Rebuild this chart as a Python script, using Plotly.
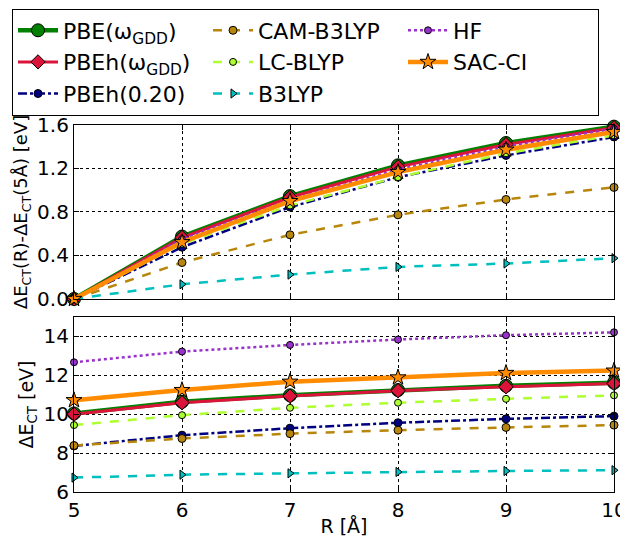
import plotly.graph_objects as go
from plotly.subplots import make_subplots

R = [5, 6, 7, 8, 9, 10]

names = ["PBE(ω<sub>GDD</sub>)", "PBEh(ω<sub>GDD</sub>)", "PBEh(0.20)",
         "CAM-B3LYP", "LC-BLYP", "B3LYP", "HF", "SAC-CI"]

# Top panel: ΔE_CT(R) - ΔE_CT(5 Å)  [eV]
top_pbe_gdd = [0.0, 0.574, 0.946, 1.229, 1.434, 1.585]
top_pbeh_gdd = [0.0, 0.565, 0.935, 1.215, 1.42, 1.575]
top_pbeh020 = [0.0, 0.476, 0.845, 1.12, 1.32, 1.49]
top_cam = [0.0, 0.335, 0.59, 0.774, 0.915, 1.026]
top_lc = [0.0, 0.507, 0.86, 1.12, 1.34, 1.505]
top_b3lyp = [0.0, 0.135, 0.224, 0.295, 0.326, 0.375]
top_hf = [0.0, 0.55, 0.91, 1.19, 1.40, 1.565]
top_sac = [0.0, 0.522, 0.90, 1.167, 1.373, 1.536]

# Bottom panel: ΔE_CT [eV]
bot_pbe_gdd = [10.04, 10.64, 10.97, 11.24, 11.46, 11.62]
bot_pbeh_gdd = [10.0, 10.59, 10.93, 11.21, 11.41, 11.58]
bot_pbeh020 = [8.37, 8.92, 9.28, 9.56, 9.76, 9.9]
bot_cam = [8.39, 8.75, 9.0, 9.18, 9.32, 9.44]
bot_lc = [9.44, 9.95, 10.33, 10.59, 10.79, 10.97]
bot_b3lyp = [6.74, 6.89, 6.96, 7.03, 7.08, 7.12]
bot_hf = [12.67, 13.22, 13.56, 13.84, 14.06, 14.21]
bot_sac = [10.72, 11.24, 11.67, 11.89, 12.12, 12.24]

top_tick_vals = [0.0, 0.4, 0.8, 1.2, 1.6]
top_tick_text = ["0.0", "0.4", "0.8", "1.2", "1.6"]
bot_tick_vals = [6, 8, 10, 12, 14]
x_tick_vals = [5, 6, 7, 8, 9, 10]

styles = [
    dict(color="#008000", width=4.5, dash="solid", symbol="circle", size=13, mcolor="#008000"),
    dict(color="#DC143C", width=3, dash="solid", symbol="diamond", size=11, mcolor="#DC143C"),
    dict(color="#000080", width=2.5, dash="dashdot", symbol="circle", size=8, mcolor="#000080"),
    dict(color="#B8860B", width=2.5, dash="dash", symbol="circle", size=8, mcolor="#B8860B"),
    dict(color="#ADFF2F", width=2.5, dash="dash", symbol="circle", size=7, mcolor="#ADFF2F"),
    dict(color="#00BFBF", width=2.5, dash="dash", symbol="triangle-right", size=8, mcolor="#00BFBF"),
    dict(color="#9932CC", width=2.5, dash="dot", symbol="circle", size=7, mcolor="#9932CC"),
    dict(color="#FF8C00", width=4.5, dash="solid", symbol="star", size=12, mcolor="#FF8C00"),
]
ranks = [1, 4, 7, 2, 5, 8, 3, 6]

tops = [top_pbe_gdd, top_pbeh_gdd, top_pbeh020, top_cam, top_lc, top_b3lyp, top_hf, top_sac]
bots = [bot_pbe_gdd, bot_pbeh_gdd, bot_pbeh020, bot_cam, bot_lc, bot_b3lyp, bot_hf, bot_sac]

fig = make_subplots(rows=2, cols=1, shared_xaxes=True, vertical_spacing=0.05)

for i, (name, st) in enumerate(zip(names, styles)):
    for row, ys, show in [(1, tops[i], True), (2, bots[i], False)]:
        fig.add_trace(go.Scatter(
            x=R, y=ys, name=name, mode="lines+markers",
            legendgroup=name, showlegend=show, legendrank=ranks[i],
            line=dict(color=st["color"], width=st["width"], dash=st["dash"]),
            marker=dict(symbol=st["symbol"], size=st["size"], color=st["mcolor"],
                        line=dict(color="black", width=1)),
            cliponaxis=False,
        ), row=row, col=1)

# The page body adds an 8 px offset, so the figure is 8 px smaller on each axis.
W, H = 620, 529
ML, MR, MT, MB = 66, 14, 117, 45
PW, PH = W - ML - MR, H - MT - MB

font_family = "DejaVu Sans"
axis_common = dict(showline=True, linecolor="black", linewidth=1.2, mirror="ticks",
                   ticks="inside", ticklen=5, tickcolor="black",
                   showgrid=True, gridcolor="black", griddash="dot", gridwidth=1,
                   zeroline=False, automargin=False, tickfont=dict(size=20, color="black"))

fig.update_layout(
    width=W, height=H,
    margin=dict(l=ML, r=MR, t=MT, b=MB, autoexpand=False),
    plot_bgcolor="white", paper_bgcolor="white",
    font=dict(family=font_family, size=18, color="black"),
    legend=dict(
        orientation="h", xref="paper", yref="paper",
        x=(4 - ML) / PW, y=1 + (MT - 0.5) / PH, xanchor="left", yanchor="top",
        bordercolor="black", borderwidth=1, bgcolor="white",
        font=dict(size=22, color="black"), entrywidth=140, traceorder="normal",
        itemwidth=40,
    ),
)

fig.update_xaxes(range=[5, 10], tickvals=x_tick_vals, **axis_common)
fig.update_xaxes(showticklabels=False, row=1, col=1)
fig.update_xaxes(title=dict(text="R [Å]", font=dict(size=19), standoff=2), row=2, col=1)
fig.update_yaxes(**axis_common)
fig.update_yaxes(range=[0, 1.6], tickvals=top_tick_vals, ticktext=top_tick_text,
                 title=dict(text="ΔE<sub>CT</sub>(R)-ΔE<sub>CT</sub>(5Å) [eV]", font=dict(size=18), standoff=4),
                 row=1, col=1)
fig.update_yaxes(range=[6, 15], tickvals=bot_tick_vals,
                 title=dict(text="ΔE<sub>CT</sub> [eV]", font=dict(size=19), standoff=4),
                 row=2, col=1)

fig.update_layout(yaxis=dict(domain=[0.526, 1.0]), yaxis2=dict(domain=[0.0, 0.477]))

fig.write_html("out.html")
